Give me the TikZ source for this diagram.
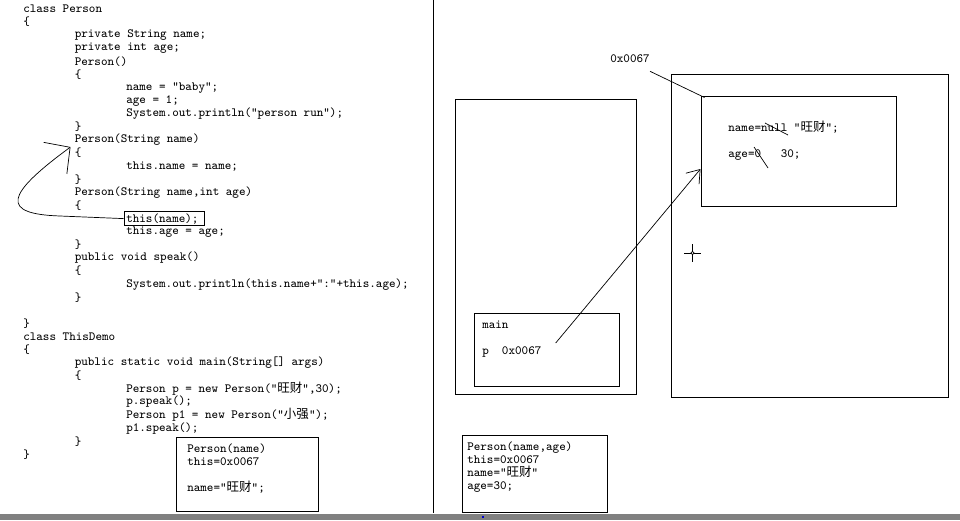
\documentclass[tikz,border=0pt]{standalone}
\usepackage{fontspec}
\newfontfamily\cjkfont{Noto Sans CJK SC}
\usetikzlibrary{arrows.meta,fit}
\newcommand{\codefont}{\fontsize{8.9pt}{9.3pt}\selectfont\ttfamily\lineskiplimit=-9pt\lineskip=0pt}
\tikzset{
  code/.style={anchor=west, inner sep=0pt, font=\codefont},
  memo/.style={anchor=north west, inner sep=0pt, align=left, font=\codefont},
  frame/.style={draw, line width=0.7pt, inner sep=0pt},
  pointer/.style={line width=0.5pt, -{Straight Barb[length=0.3cm,width=0.43cm]}},
  strike/.style={line width=0.5pt},
}
\begin{document}
\begin{tikzpicture}[x=0.025cm, y=-0.025cm]
\useasboundingbox (0,0) rectangle (960,520);

% source, one node per line: row/indent/text
\foreach \row/\ind/\txt in {
  0/0/class Person, 1/0/\{, 2/1/private String name;, 3/1/private int age;,
  4/1/Person(), 5/1/\{, 6/2/name = "baby";, 7/2/age = 1;,
  8/2/{System.out.println("person run");}, 9/1/\},
  10/1/Person(String name), 11/1/\{, 12/2/this.name = name;, 13/1/\},
  14/1/{Person(String name,int age)}, 15/1/\{, 16/2/this(name);,
  17/2/this.age = age;, 18/1/\}, 19/1/public void speak(), 20/1/\{,
  21/2/{System.out.println(this.name+":"+this.age);}, 22/1/\},
  24/0/\}, 25/0/class ThisDemo, 26/0/\{,
  27/1/{public static void main(String[] args)}, 28/1/\{,
  29/2/{Person p = new Person("{\cjkfont 旺财}",30);}, 30/2/p.speak();,
  31/2/{Person p1 = new Person("{\cjkfont 小强}");}, 32/2/p1.speak();,
  33/1/\}, 34/0/\}}
{
  \node[code] (code\row) at ({23+51.5*\ind},{9+13.1*\row}) {\txt};
}

\node[frame, fit={([xshift=-1.4pt,yshift=1pt]code16.north west) ([xshift=4pt,yshift=-1pt]code16.south east)}] (callbox) {};
\coordinate (backtip) at ([xshift=-0.1cm,yshift=-0.175cm]code10.west);
\draw[line width=0.5pt, -{Straight Barb[length=0.46cm,width=0.98cm]}] (callbox.west) -- (60,216) .. controls (0,214) and (5,195) .. (backtip);

\node[frame, fit={(176,437) (318,511)}] (ctorname) {};
\node[memo] (ctornametxt) at (187,443.5) {Person(name)\\this=0x0067\\[9.3pt]name="{\cjkfont 旺财}";};

\draw[line width=0.7pt] (433,0) -- (433,513);

% stack
\node[frame, fit={(455,99) (636,394)}] (stack) {};
\node[frame, fit={(474,313) (619,386)}] (mainframe) {};
\node[code] (mainlbl) at (482,325) {main};
\node[code] (pvar) at (482,352) {p~~0x0067};

% heap
\node[frame, fit={(671,74) (948,397)}] (heap) {};
\node[frame, fit={(701,96) (896,206)}] (obj) {};
\node[code] (addr) at (610,59) {0x0067};
\node[code] (objname) at (728,127) {name=null "{\cjkfont 旺财}";};
\node[code] (objage) at (728,155) {age=0~~~30;};
\draw[strike] (765,123) -- (788,135);
\draw[strike] (754,147) -- (768,168);

\draw[line width=0.5pt] ([yshift=-0.2cm]addr.south east) -- ([xshift=0.1cm,yshift=-0.05cm]obj.north west);
\draw[pointer] ([xshift=0.35cm,yshift=0.225cm]pvar.east) -- ([yshift=-0.45cm]obj.west);

\draw[line width=0.6pt] (684,253) -- (701,253) (692.5,244) -- (692.5,262);
\draw[line width=0.5pt, fill=white] (692.5,253) circle (1.2pt);

\node[frame, fit={(462,435) (607,512)}] (ctorfull) {};
\node[memo] (ctorfulltxt) at (467,441.5) {Person(name,age)\\this=0x0067\\name="{\cjkfont 旺财}"\\age=30;};

\fill[black!50] (0,514) rectangle (960,520);
\fill[blue!80!black] (482,516) rectangle (484,518);
\end{tikzpicture}
\end{document}
